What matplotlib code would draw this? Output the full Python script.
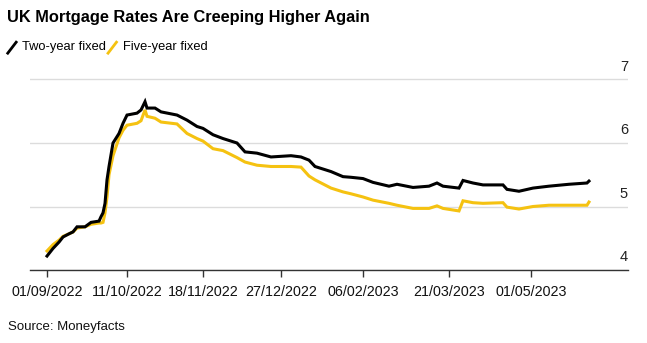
import numpy as np
import pandas as pd
import matplotlib
matplotlib.use("Agg")
import matplotlib.pyplot as plt
import matplotlib.dates as mdates
from matplotlib.lines import Line2D

plt.rcParams['font.family'] = ['Liberation Sans', 'DejaVu Sans']

# values
dates = ["2022-09-01", "2022-09-04", "2022-09-07", "2022-09-09", "2022-09-12",
         "2022-09-14", "2022-09-16", "2022-09-20", "2022-09-23", "2022-09-27",
         "2022-09-28", "2022-09-29", "2022-09-30", "2022-10-01", "2022-10-02",
         "2022-10-04", "2022-10-07", "2022-10-09", "2022-10-11", "2022-10-16",
         "2022-10-18", "2022-10-20", "2022-10-21", "2022-10-25", "2022-10-28",
         "2022-11-05", "2022-11-10", "2022-11-15", "2022-11-18", "2022-11-23",
         "2022-11-28", "2022-12-05", "2022-12-09", "2022-12-15", "2022-12-22",
         "2023-01-01", "2023-01-06", "2023-01-10", "2023-01-13", "2023-01-21",
         "2023-01-27", "2023-01-31", "2023-02-06", "2023-02-11", "2023-02-19",
         "2023-02-23", "2023-03-03", "2023-03-11", "2023-03-15", "2023-03-18",
         "2023-03-26", "2023-03-28", "2023-04-02", "2023-04-07", "2023-04-17",
         "2023-04-19", "2023-04-25", "2023-05-02", "2023-05-10", "2023-05-20",
         "2023-05-29", "2023-05-30"]

two_year = [4.22, 4.34, 4.44, 4.52, 4.57, 4.60, 4.68, 4.68, 4.75, 4.77,
            4.84, 4.90, 5.05, 5.42, 5.63, 6.00, 6.15, 6.31, 6.44, 6.47,
            6.52, 6.65, 6.55, 6.55, 6.49, 6.44, 6.36, 6.26, 6.23, 6.13,
            6.07, 6.00, 5.86, 5.84, 5.78, 5.80, 5.78, 5.73, 5.63, 5.55,
            5.47, 5.46, 5.44, 5.38, 5.32, 5.35, 5.30, 5.32, 5.37, 5.32,
            5.29, 5.41, 5.37, 5.34, 5.34, 5.27, 5.24, 5.29, 5.32, 5.35,
            5.37, 5.40]

five_year = [4.30, 4.40, 4.47, 4.53, 4.57, 4.60, 4.66, 4.68, 4.72, 4.74,
             4.74, 4.75, 4.90, 5.15, 5.50, 5.80, 6.08, 6.20, 6.28, 6.31,
             6.35, 6.52, 6.42, 6.39, 6.33, 6.30, 6.15, 6.07, 6.03, 5.91,
             5.88, 5.77, 5.70, 5.65, 5.63, 5.63, 5.62, 5.48, 5.42, 5.29,
             5.23, 5.20, 5.15, 5.10, 5.05, 5.02, 4.97, 4.97, 5.01, 4.97,
             4.93, 5.09, 5.06, 5.05, 5.06, 4.99, 4.96, 5.00, 5.02, 5.02,
             5.02, 5.07]

tick_dates = ["2022-09-01", "2022-10-11", "2022-11-18", "2022-12-27",
              "2023-02-06", "2023-03-21", "2023-05-01"]
y_ticks = [4, 5, 6, 7]

BLACK = "#000000"
YELLOW = "#F5C211"

d = pd.to_datetime(dates)
fig = plt.figure(figsize=(6.47, 3.43), dpi=100)
ax = fig.add_axes([0.0464, 0.2128, 0.9706 - 0.0464, 0.5925])

ax.plot(d, five_year, color=YELLOW, lw=2.2, solid_joinstyle='miter', zorder=3)
ax.plot(d, two_year, color=BLACK, lw=2.2, solid_joinstyle='miter', zorder=4)

ax.set_xlim(pd.Timestamp("2022-08-23 12:00"), pd.Timestamp("2023-06-18 12:00"))
ax.set_ylim(4, 7.2)

for s in ["top", "right", "left"]:
    ax.spines[s].set_visible(False)
ax.spines["bottom"].set_color("#333333")
ax.spines["bottom"].set_linewidth(1.0)

ax.set_yticks(y_ticks)
ax.tick_params(axis='y', length=0, labelleft=False)
ax.grid(axis='y', color="#dcdcdc", lw=1.0)
ax.set_axisbelow(True)
for v in y_ticks:
    ax.annotate(str(v), xy=(1.0, v), xycoords=ax.get_yaxis_transform(),
                xytext=(0, 4), textcoords='offset points',
                ha='right', va='bottom', fontsize=10.5, color="#222222")

ax.set_xticks(pd.to_datetime(tick_dates))
ax.xaxis.set_major_formatter(mdates.DateFormatter("%d/%m/%Y"))
ax.tick_params(axis='x', length=5, width=1, color="#333333",
               labelsize=10.3, pad=6, labelcolor="#111111")

fig.text(0.011, 0.95, "UK Mortgage Rates Are Creeping Higher Again",
         fontsize=11.8, fontweight='bold', va='center', ha='left')

# legend
fig.add_artist(Line2D([0.012, 0.025], [0.845, 0.877], color=BLACK, lw=2.0,
                      transform=fig.transFigure))
fig.text(0.034, 0.862, "Two-year fixed", fontsize=9.3, va='center')
fig.add_artist(Line2D([0.167, 0.180], [0.845, 0.877], color=YELLOW, lw=2.0,
                      transform=fig.transFigure))
fig.text(0.190, 0.862, "Five-year fixed", fontsize=9.3, va='center')

fig.text(0.013, 0.047, "Source: Moneyfacts", fontsize=9.5, va='center',
         color="#111111")

fig.savefig("out.png", dpi=100)
